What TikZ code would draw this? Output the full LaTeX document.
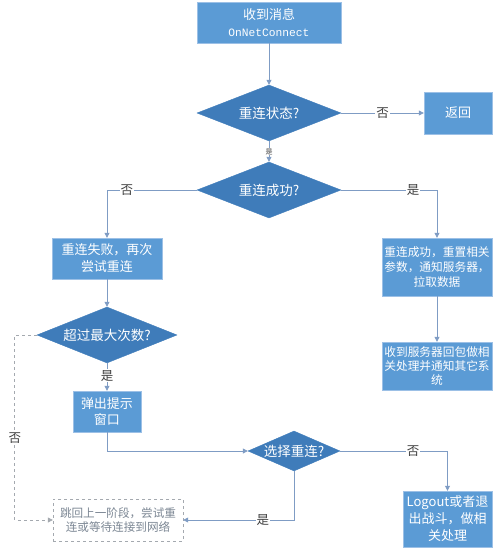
\documentclass[tikz,border=0pt]{standalone}
\usepackage{fontspec}
\setmainfont{Noto Sans CJK SC}
\newfontfamily\monofont{Liberation Mono}
\usetikzlibrary{shapes.geometric,arrows.meta}
\definecolor{boxblue}{HTML}{5B9BD5}
\definecolor{boxedge}{HTML}{9CC0E6}
\definecolor{diablue}{HTML}{3F7CBA}
\definecolor{flowline}{HTML}{7F9CC4}
\definecolor{dashgray}{HTML}{A4A9AF}
\definecolor{labelgray}{HTML}{404040}
\definecolor{backtext}{HTML}{7C8794}
\begin{document}
\begin{tikzpicture}[ x=1pt, y=-1pt,
    box/.style={ rectangle, fill=boxblue, draw=boxedge, text=white, inner sep=0pt, align=center, font=\fontsize{13}{17}\selectfont },
    smallbox/.style={ box, font=\fontsize{11.7}{15}\selectfont },
    decide/.style={ diamond, fill=diablue, draw=diablue, text=white, inner sep=0pt, font=\fontsize{13.5}{15}\selectfont },
    backbox/.style={ rectangle, fill=white, draw=dashgray, dashed, text=backtext, inner sep=0pt, align=center, font=\fontsize{11.6}{14}\selectfont },
    flow/.style={ draw=flowline, line width=0.8pt, -{Triangle[width=5pt,length=5pt]} },
    tag/.style={ fill=white, text=labelgray, inner sep=1pt, font=\fontsize{12.5}{12.5}\selectfont }
  ]
  \useasboundingbox (0, 0) rectangle (500, 555);

  \node [ box, minimum width=144pt, minimum height=41pt ] (msg) at (269, 22.5) {收到消息\\{\monofont\fontsize{11.25}{17}\selectfont OnNetConnect}};
  \node [ decide, aspect=2.57, minimum width=144pt, minimum height=56pt ] (state) at (269, 113) {重连状态?};
  \node [ box, minimum width=68pt, minimum height=42pt ] (ret) at (458, 113) {返回};
  \node [ decide, aspect=2.57, minimum width=144pt, minimum height=56pt ] (succ) at (269, 190) {重连成功?};
  \node [ box, minimum width=110pt, minimum height=41pt ] (fail) at (107, 258.5) {重连失败，再次\\尝试重连};
  \node [ smallbox, minimum width=110pt, minimum height=58pt ] (ok) at (437, 267) {重连成功，重置相关\\参数，通知服务器，\\拉取数据};
  \node [ decide, aspect=2.5, minimum width=140pt, minimum height=56pt ] (maxn) at (107, 335) {超过最大次数?};
  \node [ smallbox, font=\fontsize{11.7}{14}\selectfont, minimum width=110pt, minimum height=48pt ] (reply) at (437, 366) {收到服务器回包做相\\关处理并通知其它系\\统};
  \node [ box, font=\fontsize{13}{16}\selectfont, minimum width=68pt, minimum height=41pt ] (popup) at (107, 411.5) {弹出提示\\窗口};
  \node [ decide, aspect=2.3, minimum width=92pt, minimum height=40pt, inner xsep=-2pt ] (choose) at (294, 451) {选择重连?};
  \node [ box, minimum width=89pt, minimum height=56pt ] (logout) at (447.5, 519) {Logout或者退\\出战斗，做相\\关处理};
  \node [ backbox, minimum width=130pt, minimum height=42pt ] (back) at (118, 520) {跳回上一阶段，尝试重\\连或等待连接到网络};

  \draw [ flow ] (msg) -- (state);
  \draw [ flow ] (state) -- (ret) node [ tag, pos=0.5 ] {否};
  \draw [ flow ] (state) -- (succ) node [ tag, pos=0.5, font=\fontsize{7}{7}\selectfont, inner sep=0.5pt ] {是};
  \draw [ flow ] (succ.west) -| (fail.north) node [ tag, pos=0.39 ] {否};
  \draw [ flow ] (succ.east) -| (ok.north) node [ tag, pos=0.375 ] {是};
  \draw [ flow ] (fail) -- (maxn);
  \draw [ flow ] (ok) -- (reply);
  \draw [ flow ] (maxn) -- (popup) node [ tag, pos=0.45 ] {是};
  \draw [ flow ] (popup.south) |- (choose.west);
  \draw [ flow ] (choose.east) -| (logout.north) node [ tag, pos=0.34 ] {否};
  \draw [ flow ] (choose.south) |- (back.east) node [ tag, pos=0.64 ] {是};
  \draw [ flow, draw=dashgray, dashed ] (maxn.west) -- ++(-22, 0) |- (back.west) node [ tag, pos=0.28 ] {否};
\end{tikzpicture}
\end{document}
